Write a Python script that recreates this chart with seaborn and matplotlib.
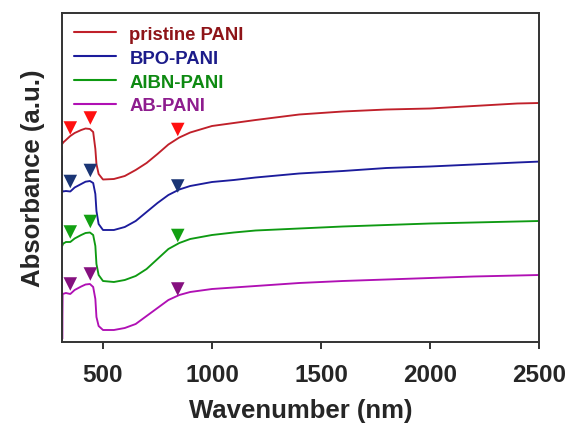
import numpy as np
import pandas as pd
import matplotlib
matplotlib.use("Agg")
import matplotlib.pyplot as plt
import seaborn as sns

# ---- data (absorbance in arbitrary units) ----
wavelength = [311, 313, 315, 330, 350, 370, 400, 420, 440, 455, 465, 470, 480,
              500, 550, 600, 650, 700, 750, 800, 850, 900, 1000, 1100, 1200,
              1400, 1600, 1800, 2000, 2200, 2400, 2500]

pristine = [2.10, 1.98, 1.99, 2.02, 2.06, 2.09, 2.12, 2.135, 2.13, 2.10, 1.93,
            1.78, 1.68, 1.625, 1.63, 1.66, 1.72, 1.79, 1.88, 1.975, 2.045,
            2.095, 2.16, 2.19, 2.22, 2.275, 2.305, 2.325, 2.335, 2.36, 2.385, 2.39]
bpo = [1.86, 1.50, 1.505, 1.51, 1.505, 1.545, 1.58, 1.603, 1.61, 1.59, 1.48,
       1.31, 1.18, 1.12, 1.12, 1.15, 1.21, 1.30, 1.39, 1.47, 1.525, 1.56,
       1.60, 1.62, 1.645, 1.685, 1.71, 1.74, 1.755, 1.775, 1.795, 1.804]
aibn = [1.20, 0.96, 0.98, 1.00, 1.00, 1.035, 1.07, 1.09, 1.095, 1.07, 0.96,
        0.78, 0.67, 0.61, 0.60, 0.62, 0.66, 0.73, 0.83, 0.93, 0.99, 1.03,
        1.07, 1.095, 1.115, 1.135, 1.155, 1.17, 1.185, 1.195, 1.205, 1.21]
ab = [0.70, 0.03, 0.48, 0.49, 0.48, 0.52, 0.555, 0.575, 0.58, 0.55, 0.43,
      0.25, 0.16, 0.12, 0.12, 0.14, 0.18, 0.26, 0.34, 0.42, 0.47, 0.50,
      0.53, 0.545, 0.56, 0.59, 0.61, 0.625, 0.64, 0.655, 0.665, 0.67]

series_names = ["pristine PANI", "BPO-PANI", "AIBN-PANI", "AB-PANI"]
series_values = [pristine, bpo, aibn, ab]

# peak markers (triangles) positions
marker_wl = [350, 442, 843]
marker_y = {
    "pristine PANI": [2.14, 2.24, 2.125],
    "BPO-PANI": [1.605, 1.715, 1.56],
    "AIBN-PANI": [1.10, 1.205, 1.065],
    "AB-PANI": [0.58, 0.68, 0.53],
}

line_colors = ["#C0202A", "#1C1C9C", "#0E9A12", "#B010B4"]
marker_colors = ["#FF1010", "#1A3575", "#12A012", "#85107F"]
text_colors = ["#8E1418", "#1C1C8A", "#0E8A12", "#8E1D8E"]

xticks = [500, 1000, 1500, 2000, 2500]

# ---- build tables ----
rows = []
for name, vals in zip(series_names, series_values):
    for w, v in zip(wavelength, vals):
        rows.append({"Wavelength": w, "Absorbance": v, "Sample": name})
df = pd.DataFrame(rows)

mrows = []
for name in series_names:
    for w, v in zip(marker_wl, marker_y[name]):
        mrows.append({"Wavelength": w, "Absorbance": v, "Sample": name})
mdf = pd.DataFrame(mrows)

sns.set_theme(style="white")
plt.rcParams["font.family"] = ["Liberation Sans", "DejaVu Sans"]
plt.rcParams["font.weight"] = "bold"

fig = plt.figure(figsize=(5.69, 4.27), dpi=100)
ax = fig.add_axes([62 / 569, 1 - 343 / 427, (539 - 62) / 569, (343 - 14) / 427])

sns.lineplot(data=df, x="Wavelength", y="Absorbance", hue="Sample",
             hue_order=series_names, palette=line_colors, sort=False,
             estimator=None, linewidth=1.35, ax=ax, legend=False)
sns.scatterplot(data=mdf, x="Wavelength", y="Absorbance", hue="Sample",
                hue_order=series_names, palette=marker_colors, marker="v",
                s=95, linewidth=0, ax=ax, legend=False, zorder=5)

ax.set_xlim(312, 2500)
ax.set_ylim(0, 3.29)
ax.set_xticks(xticks)
ax.set_xticklabels([str(t) for t in xticks], fontsize=17.5, fontweight="bold")
ax.set_yticks([])
ax.tick_params(axis="x", direction="out", length=5, width=1.3, color="#222222",
               pad=10, bottom=True)
for sp in ax.spines.values():
    sp.set_color("#333333")
    sp.set_linewidth(1.4)
ax.set_xlabel("Wavenumber (nm)", fontsize=18.5, fontweight="bold", labelpad=9)
ax.set_ylabel("Absorbance (a.u.)", fontsize=18.5, fontweight="bold", labelpad=12)

handles = [plt.Line2D([], [], color=c, lw=1.5) for c in line_colors]
leg = ax.legend(handles, series_names, loc="upper left",
                bbox_to_anchor=(-0.002, 1.0), frameon=False,
                prop={"size": 13.3, "weight": "bold"}, handlelength=2.3,
                handletextpad=0.7, labelspacing=0.37, borderaxespad=0.3)
for t, c in zip(leg.get_texts(), text_colors):
    t.set_color(c)

fig.savefig("out.png", dpi=100)
